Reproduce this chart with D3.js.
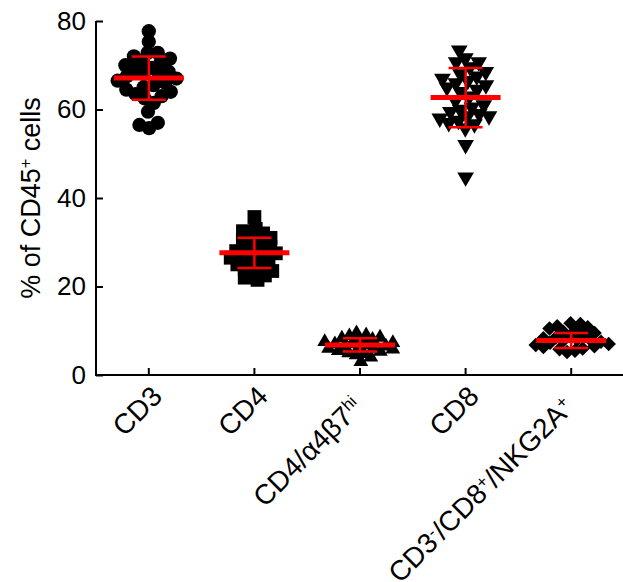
<!DOCTYPE html>
<html>
<head>
<meta charset="utf-8">
<script src="https://cdn.jsdelivr.net/npm/d3@7"></script>
<style>
  body { margin: 0; background: #fff; }
  text { font-family: "Liberation Sans", Arial, sans-serif; }
</style>
</head>
<body>
<svg id="chart" width="623" height="582"></svg>
<script>
// categories, tick labels ("^{..}" marks a superscript)
var categories = ["CD3", "CD4", "CD4/α4β7^{hi}", "CD8", "CD3^{-}/CD8^{+}/NKG2A^{+}"];
var yTicks = [0, 20, 40, 60, 80];
var yLabel = "% of CD45^{+} cells";

// per-animal values (% of CD45+)
var cd3Values = [77.7, 75.3, 72.8, 72.8, 72, 71.5, 70.8, 70.6, 70, 69.4, 69, 68.5, 68, 67.8, 67.5,
  67, 66.5, 66, 65.5, 65, 64.5, 64, 63.5, 63, 62.5, 61.5, 59.5, 57, 56.5, 55.8];
var cd4Values = [35.7, 33, 32.5, 32, 31.5, 31, 30.5, 30, 29.5, 29, 28.5, 28, 28, 27.5, 27, 27,
  26.5, 26, 25.5, 25, 25, 24.5, 24, 23.5, 23, 22.5, 22, 21.5];
var cd4a4b7Values = [9.5, 9, 8.8, 8.5, 8.3, 8, 7.8, 7.5, 7.3, 7, 7, 6.8, 6.5, 6.5, 6.3, 6, 6,
  5.8, 5.5, 5.3, 5, 4.8, 4.5, 4, 3];
var cd8Values = [73.4, 71.6, 70.7, 70.7, 69.6, 68.5, 68, 67.5, 67, 66.5, 66, 65.5, 65, 64.5, 64,
  63, 62, 61, 60.5, 60, 59.5, 59, 58.5, 58.5, 58, 57.5, 57, 56.7, 55.8, 52, 44.7];
var nkValues = [11.7, 11.5, 11, 10.8, 10.5, 10, 9.8, 9.5, 9, 8.8, 8.5, 8.3, 8, 8, 7.8, 7.5, 7.3,
  7, 6.8, 6.5, 6.3, 6, 5.8, 5.5, 5.2];

// mean and SD shown by the red bars
var means = [67.1, 27.6, 6.8, 62.7, 7.8];
var sds = [4.9, 3.4, 1.5, 6.7, 1.7];

var groups = [cd3Values, cd4Values, cd4a4b7Values, cd8Values, nkValues];

var svg = d3.select("#chart");
var plotLeft = 96, plotRight = 624, plotTop = 21, plotBottom = 375;

var x = d3.scaleBand().domain(categories).range([plotLeft, plotRight]).padding(0);
var y = d3.scaleLinear().domain([0, 80]).range([plotBottom, plotTop]);

// marker shapes per group (r = spacing used when spreading the dots)
var shapes = [
  {type: d3.symbolCircle, size: 160, rot: 0, r: 5.1},
  {type: d3.symbolSquare, size: 190, rot: 0, r: 4.3},
  {type: d3.symbolTriangle, size: 95, rot: 0, r: 3.9},
  {type: d3.symbolTriangle, size: 120, rot: 180, r: 5},
  {type: d3.symbolSquare, size: 105, rot: 45, r: 4}
];

// axes, ticks pointing inward
var yAxis = d3.axisLeft(y).tickValues(yTicks).tickSize(-7).tickPadding(10);
var gy = svg.append("g").attr("transform", "translate(" + plotLeft + ",0)").call(yAxis);
gy.select(".domain").attr("stroke-width", 2).attr("d", "M0," + (plotBottom + 1) + "V" + plotTop);
gy.selectAll(".tick line").attr("stroke-width", 2);
gy.selectAll(".tick text").attr("font-size", 26).attr("fill", "#000")
  .attr("font-family", "Liberation Sans, Arial, sans-serif");

var xAxis = d3.axisBottom(x).tickSize(-7).tickFormat("");
var gx = svg.append("g").attr("transform", "translate(0," + plotBottom + ")").call(xAxis);
gx.select(".domain").attr("stroke-width", 2).attr("d", "M" + (plotLeft - 1) + ",0H" + plotRight);
gx.selectAll(".tick line").attr("stroke-width", 2);

function richText(sel, str) {
  var parts = str.split(/(\^\{[^}]*\})/);
  parts.forEach(function(p) {
    if (!p) return;
    if (p.charAt(0) == "^") {
      sel.append("tspan").attr("baseline-shift", "super").attr("font-size", "0.6em")
        .text(p.slice(2, -1));
    } else {
      sel.append("tspan").text(p);
    }
  });
}

// rotated category labels; ones ending in a superscript sit a bit lower-left
categories.forEach(function(c) {
  var shift = /\}$/.test(c) ? 11 : 0;
  var t = svg.append("text")
    .attr("transform", "translate(" + (x(c) + x.bandwidth() / 2 + 15 - shift) + "," +
      (398 + shift) + ") rotate(-45)")
    .attr("text-anchor", "end")
    .attr("font-size", 28);
  richText(t, c);
});

// y axis title
var yt = svg.append("text")
  .attr("transform", "translate(40,198) rotate(-90)")
  .attr("text-anchor", "middle")
  .attr("font-size", 27);
richText(yt, yLabel);

// spread points sideways (scatter dot plot)
groups.forEach(function(vals, gi) {
  var cx = x(categories[gi]) + x.bandwidth() / 2;
  var sh = shapes[gi];
  var nodes = vals.map(function(v, i) {
    return {v: v, fy: y(v), x: cx + (i % 2 ? 1 : -1) * (i * 0.3)};
  });
  var sim = d3.forceSimulation(nodes)
    .force("x", d3.forceX(cx).strength(0.2))
    .force("collide", d3.forceCollide(sh.r).iterations(3))
    .stop();
  for (var k = 0; k < 300; k++) sim.tick();

  svg.append("g").selectAll("path").data(nodes).enter().append("path")
    .attr("d", d3.symbol().type(sh.type).size(sh.size))
    .attr("transform", function(d) {
      return "translate(" + d.x + "," + d.fy + ") rotate(" + sh.rot + ")";
    })
    .attr("fill", "#000");
});

// mean +/- SD bars
var bars = svg.append("g").attr("stroke", "#ff0000");
categories.forEach(function(c, i) {
  var cx = x(c) + x.bandwidth() / 2;
  bars.append("line").attr("x1", cx - 35).attr("x2", cx + 35)
    .attr("y1", y(means[i])).attr("y2", y(means[i])).attr("stroke-width", 5);
  bars.append("line").attr("x1", cx).attr("x2", cx)
    .attr("y1", y(means[i] + sds[i])).attr("y2", y(means[i] - sds[i])).attr("stroke-width", 2.5);
  [means[i] + sds[i], means[i] - sds[i]].forEach(function(v) {
    bars.append("line").attr("x1", cx - 17).attr("x2", cx + 17)
      .attr("y1", y(v)).attr("y2", y(v)).attr("stroke-width", 2.5);
  });
});
</script>
</body>
</html>
